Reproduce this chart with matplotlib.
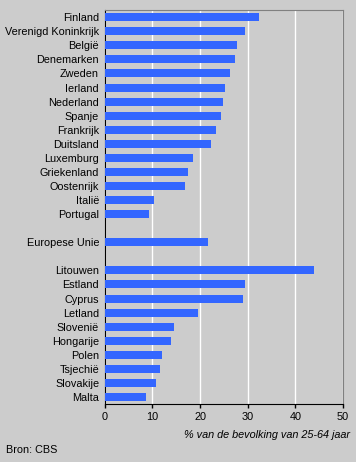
import matplotlib.pyplot as plt
import numpy as np

plt.rcParams['font.family'] = ['Liberation Sans', 'DejaVu Sans']

# landen en waarden (% van de bevolking van 25-64 jaar)
eu15 = ['Finland', 'Verenigd Koninkrijk', 'België', 'Denemarken', 'Zweden',
        'Ierland', 'Nederland', 'Spanje', 'Frankrijk', 'Duitsland',
        'Luxemburg', 'Griekenland', 'Oostenrijk', 'Italië', 'Portugal']
eu15_waarden = [32.4, 29.4, 27.7, 27.3, 26.3, 25.2, 24.8, 24.4, 23.3, 22.3,
                18.5, 17.5, 16.8, 10.3, 9.3]
eu_label = ['Europese Unie']
eu_waarde = [21.7]
nieuw = ['Litouwen', 'Estland', 'Cyprus', 'Letland', 'Slovenië',
         'Hongarije', 'Polen', 'Tsjechië', 'Slovakije', 'Malta']
nieuw_waarden = [43.9, 29.4, 29.0, 19.6, 14.5, 13.9, 12.0, 11.6, 10.8, 8.7]

labels = eu15 + [''] + eu_label + [''] + nieuw
waarden = eu15_waarden + [np.nan] + eu_waarde + [np.nan] + nieuw_waarden
pos = np.arange(len(labels))

bg = '#cccccc'
fig = plt.figure(figsize=(3.56, 4.62), dpi=100, facecolor=bg)
ax = fig.add_axes([0.294, 0.1255, 0.6695, 0.8525], facecolor=bg)

ax.barh(pos, np.nan_to_num(waarden), height=0.57, color='#3366ff', zorder=3)

ax.set_xlim(0, 50)
ax.set_ylim(len(labels) - 0.5, -0.5)
ax.set_xticks([0, 10, 20, 30, 40, 50])
ax.set_yticks(pos)
ax.set_yticklabels(labels, fontsize=7.8)
ax.tick_params(axis='y', length=0, pad=4)
ax.tick_params(axis='x', length=3, width=1, labelsize=7.8, pad=3)
ax.xaxis.grid(True, color='white', linewidth=1.0, zorder=0)

ax.spines['left'].set_color('black')
ax.spines['bottom'].set_color('black')
ax.spines['right'].set_color('#808080')
ax.spines['top'].set_color('#808080')

fig.text(0.983, 0.058, '% van de bevolking van 25-64 jaar', fontsize=7.8,
         style='italic', ha='right', va='center')
fig.text(0.017, 0.026, 'Bron: CBS', fontsize=7.8, ha='left', va='center')

plt.savefig('out.png', dpi=100, facecolor=bg)
